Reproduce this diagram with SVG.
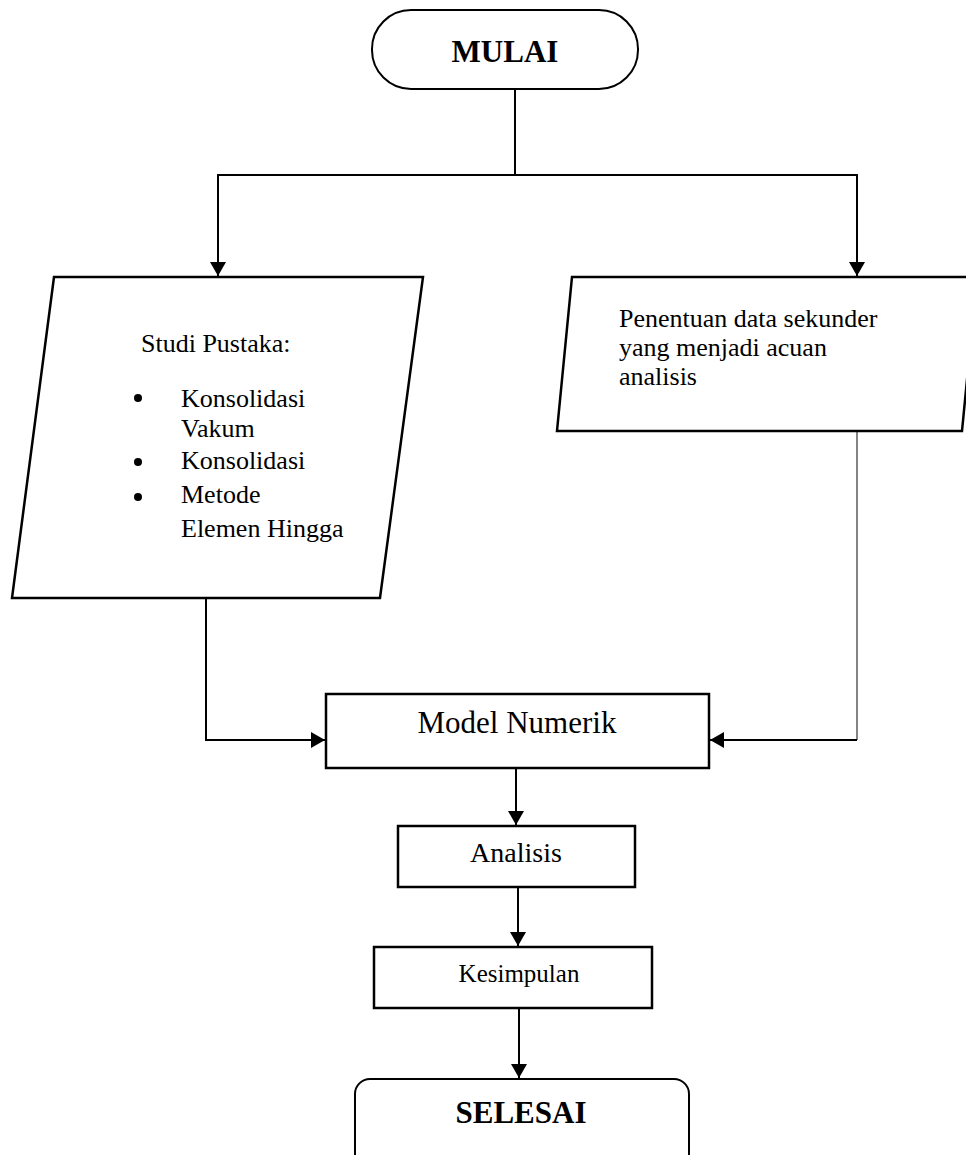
<svg xmlns="http://www.w3.org/2000/svg" width="966" height="1155" viewBox="0 0 966 1155">
  <style>
    .shape { fill: #ffffff; stroke: #000000; stroke-width: 2.5; }
    .txt { font-family: "Liberation Serif", "Times New Roman", serif; fill: #000000; }
    .bold { font-weight: bold; }
    .conn { fill: none; stroke: #000000; stroke-width: 2; }
    .thin { fill: none; stroke: #333333; stroke-width: 1.2; }
  </style>
  <defs>
    <marker id="arrow" markerUnits="userSpaceOnUse" markerWidth="16" markerHeight="16" refX="14" refY="8" orient="auto">
      <path d="M0,0 L14,8 L0,16 Z" fill="#000000"/>
    </marker>
  </defs>
  <rect width="966" height="1155" fill="#ffffff"/>

  <g id="connectors">
    <path class="conn" d="M515,89 V175"/>
    <path class="conn" d="M515,175 H218 V276" marker-end="url(#arrow)"/>
    <path class="conn" d="M515,175 H857 V276" marker-end="url(#arrow)"/>
    <path class="conn" d="M206,598 V740 H325" marker-end="url(#arrow)"/>
    <path class="thin" d="M857,431 V740"/>
    <path class="conn" d="M857,740 H710" marker-end="url(#arrow)"/>
    <path class="conn" d="M516,768 V825" marker-end="url(#arrow)"/>
    <path class="conn" d="M518,887 V946" marker-end="url(#arrow)"/>
    <path class="conn" d="M519,1008 V1078" marker-end="url(#arrow)"/>
  </g>

  <g id="mulai">
    <rect class="shape" x="372" y="10" width="266" height="79" rx="39" ry="39" style="stroke-width:2"/>
    <text class="txt bold" x="505" y="62" font-size="31" text-anchor="middle">MULAI</text>
  </g>

  <g id="studi-pustaka">
    <polygon class="shape" points="54,277 423,277 380,598 12,598"/>
    <text class="txt" x="141" y="352" font-size="26">Studi Pustaka:</text>
    <circle cx="138" cy="398" r="4"/>
    <circle cx="138" cy="462" r="4"/>
    <circle cx="138" cy="497" r="4"/>
    <text class="txt" font-size="26">
      <tspan x="181" y="407">Konsolidasi</tspan>
      <tspan x="181" y="437">Vakum</tspan>
      <tspan x="181" y="469">Konsolidasi</tspan>
      <tspan x="181" y="503">Metode</tspan>
      <tspan x="181" y="537">Elemen Hingga</tspan>
    </text>
  </g>

  <g id="data-sekunder">
    <polygon class="shape" points="572,277 977,277 962,431 557,431"/>
    <text class="txt" font-size="26">
      <tspan x="619" y="327">Penentuan data sekunder</tspan>
      <tspan x="619" y="356">yang menjadi acuan</tspan>
      <tspan x="619" y="385">analisis</tspan>
    </text>
  </g>

  <g id="model-numerik">
    <rect class="shape" x="326" y="694" width="383" height="74"/>
    <text class="txt" x="517" y="733" font-size="31" text-anchor="middle">Model Numerik</text>
  </g>

  <g id="analisis">
    <rect class="shape" x="398" y="826" width="237" height="61"/>
    <text class="txt" x="516" y="862" font-size="28" text-anchor="middle">Analisis</text>
  </g>

  <g id="kesimpulan">
    <rect class="shape" x="374" y="947" width="278" height="61"/>
    <text class="txt" x="519" y="982" font-size="25" text-anchor="middle">Kesimpulan</text>
  </g>

  <g id="selesai">
    <rect class="shape" x="355" y="1079" width="334" height="100" rx="15" ry="15" style="stroke-width:2"/>
    <text class="txt bold" x="521" y="1123" font-size="31" text-anchor="middle">SELESAI</text>
  </g>
</svg>
